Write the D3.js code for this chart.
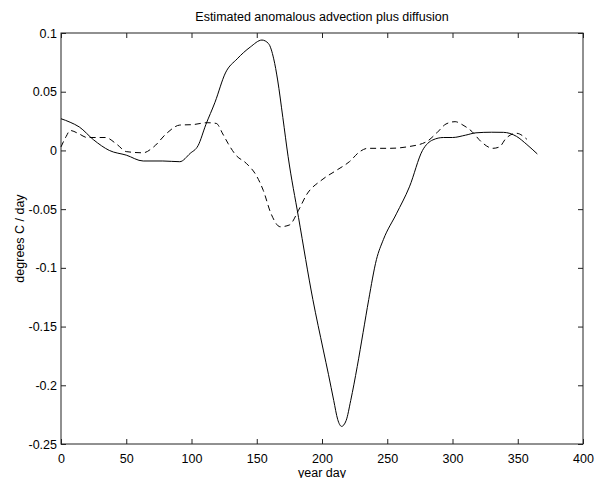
<!DOCTYPE html>
<html>
<head>
<meta charset="utf-8">
<script src="https://cdn.jsdelivr.net/npm/d3@7"></script>
<style>
  body { margin: 0; background: #fff; overflow: hidden; }
  svg text { font-family: "Liberation Sans", Arial, Helvetica, sans-serif; fill: #000; }
</style>
</head>
<body>
<div id="chart"></div>
<script>
// solid line: estimated anomalous advection plus diffusion
var solidDay = [0, 7, 14, 25, 37, 50, 63, 78, 91, 99, 105, 111, 118, 126, 135, 145, 154, 159, 163, 166, 170, 174, 182, 193, 201, 205, 209, 212, 215, 218.5, 222, 227, 231.5, 235.8, 241.7, 247, 257, 267, 277, 285, 293, 300, 310, 318, 330, 339, 349, 357, 365];
var solidVal = [0.027, 0.024, 0.020, 0.009, 0.0, -0.004, -0.009, -0.009, -0.0096, -0.0025, 0.004, 0.022, 0.041, 0.066, 0.078, 0.088, 0.094, 0.091, 0.078, 0.060, 0.028, -0.005, -0.057, -0.127, -0.170, -0.191, -0.213, -0.229, -0.235, -0.230, -0.213, -0.184, -0.155, -0.127, -0.093, -0.076, -0.054, -0.031, 0.0, 0.009, 0.011, 0.011, 0.013, 0.015, 0.0155, 0.0154, 0.012, 0.005, -0.003];

// dashed line
var dashDay = [0, 4, 7, 14, 20, 34, 43, 50, 63, 71, 81, 91, 101, 112, 119, 124, 128, 134, 142, 150, 155, 161, 168, 175, 182, 188, 200, 211, 221, 229, 235, 252, 265, 280, 288, 295, 302, 308, 315, 322, 331, 336, 341, 349, 357];
var dashVal = [0.003, 0.012, 0.017, 0.014, 0.011, 0.011, 0.005, -0.001, -0.002, 0.003, 0.0146, 0.0216, 0.022, 0.0236, 0.023, 0.014, 0.006, -0.004, -0.011, -0.022, -0.034, -0.054, -0.065, -0.0635, -0.051, -0.038, -0.025, -0.017, -0.0096, -0.001, 0.0018, 0.0018, 0.003, 0.0074, 0.015, 0.0225, 0.0245, 0.0216, 0.016, 0.0074, 0.0018, 0.003, 0.0103, 0.0146, 0.0095];

var xTicks = [0, 50, 100, 150, 200, 250, 300, 350, 400];
var yTicks = [-0.25, -0.2, -0.15, -0.1, -0.05, 0, 0.05, 0.1];

var width = 595, height = 478;
var plotL = 61, plotR = 583, plotT = 33, plotB = 444;

var svg = d3.select("#chart").append("svg")
    .attr("width", width)
    .attr("height", height);

var x = d3.scaleLinear().domain([0, 400]).range([plotL, plotR]);
var y = d3.scaleLinear().domain([-0.25, 0.1]).range([plotB, plotT]);

// box
svg.append("rect")
    .attr("x", plotL).attr("y", plotT)
    .attr("width", plotR - plotL).attr("height", plotB - plotT)
    .attr("fill", "none").attr("stroke", "#222").attr("stroke-width", 1);

var tickFmt = function(d) { return String(+d.toFixed(2)); };

// axes with inward ticks
function styleAxis(g) {
    g.select(".domain").remove();
    g.selectAll(".tick line").attr("stroke", "#222");
    g.selectAll(".tick text").style("font-size", "12.5px");
}

svg.append("g").attr("transform", "translate(0," + plotB + ")")
    .call(d3.axisBottom(x).tickValues(xTicks).tickSizeInner(-5).tickSizeOuter(0).tickPadding(10).tickFormat(tickFmt))
    .call(styleAxis);
svg.append("g").attr("transform", "translate(0," + plotT + ")")
    .call(d3.axisTop(x).tickValues(xTicks).tickSizeInner(-5).tickSizeOuter(0).tickFormat(""))
    .call(styleAxis);
svg.append("g").attr("transform", "translate(" + plotL + ",0)")
    .call(d3.axisLeft(y).tickValues(yTicks).tickSizeInner(-5).tickSizeOuter(0).tickPadding(4).tickFormat(tickFmt))
    .call(styleAxis);
svg.append("g").attr("transform", "translate(" + plotR + ",0)")
    .call(d3.axisRight(y).tickValues(yTicks).tickSizeInner(-5).tickSizeOuter(0).tickFormat(""))
    .call(styleAxis);

// lines
var line = d3.line()
    .x(function(d) { return x(d[0]); })
    .y(function(d) { return y(d[1]); })
    .curve(d3.curveMonotoneX);

svg.append("path")
    .datum(d3.zip(solidDay, solidVal))
    .attr("d", line)
    .attr("fill", "none").attr("stroke", "#000").attr("stroke-width", 1);

svg.append("path")
    .datum(d3.zip(dashDay, dashVal))
    .attr("d", line)
    .attr("fill", "none").attr("stroke", "#000").attr("stroke-width", 1)
    .attr("stroke-dasharray", "6,4");

// labels
svg.append("text")
    .attr("x", (plotL + plotR) / 2).attr("y", 21)
    .attr("text-anchor", "middle")
    .style("font-size", "12.5px")
    .text("Estimated anomalous advection plus diffusion");

svg.append("text")
    .attr("x", (plotL + plotR) / 2).attr("y", 477)
    .attr("text-anchor", "middle")
    .style("font-size", "12.5px")
    .text("year day");

svg.append("text")
    .attr("transform", "translate(24," + ((plotT + plotB) / 2) + ") rotate(-90)")
    .attr("text-anchor", "middle")
    .style("font-size", "12.5px")
    .text("degrees C / day");
</script>
</body>
</html>
